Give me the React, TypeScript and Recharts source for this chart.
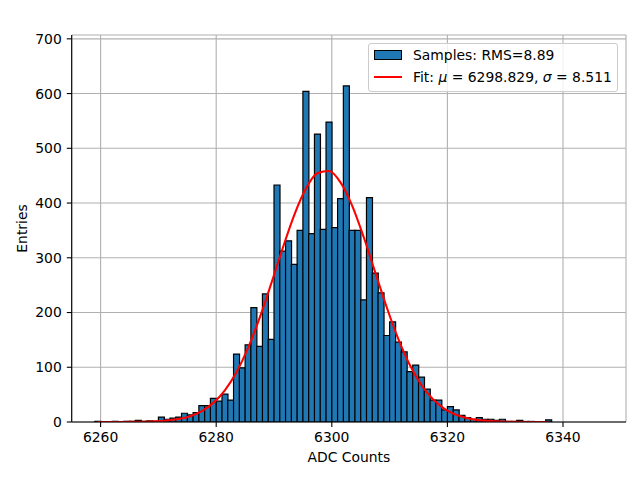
import { Bar, CartesianGrid, ComposedChart, Label, Legend, Line, XAxis, YAxis } from "recharts"

// histogram bins (left edge, width 1 ADC count)
const adcBins = [
  6259, 6260, 6261, 6262, 6263, 6264, 6265, 6266, 6267, 6268, 6269,
  6270, 6271, 6272, 6273, 6274, 6275, 6276, 6277, 6278, 6279,
  6280, 6281, 6282, 6283, 6284, 6285, 6286, 6287, 6288, 6289,
  6290, 6291, 6292, 6293, 6294, 6295, 6296, 6297, 6298, 6299,
  6300, 6301, 6302, 6303, 6304, 6305, 6306, 6307, 6308, 6309,
  6310, 6311, 6312, 6313, 6314, 6315, 6316, 6317, 6318, 6319,
  6320, 6321, 6322, 6323, 6324, 6325, 6326, 6327, 6328, 6329,
  6330, 6331, 6332, 6333, 6334, 6335, 6336, 6337,
]

const entries = [
  1, 0, 0, 1, 0, 1, 1, 3, 1, 2, 1,
  9, 5, 7, 9, 16, 13, 17, 30, 30, 43,
  38, 51, 40, 124, 99, 141, 209, 138, 234, 151,
  433, 312, 331, 288, 350, 604, 344, 526, 352, 548,
  355, 408, 614, 350, 350, 223, 410, 272, 236, 158,
  183, 146, 128, 92, 104, 82, 60, 40, 40, 22,
  28, 22, 12, 8, 5, 8, 5, 5, 3, 5,
  1, 1, 3, 1, 1, 0, 0, 4,
]

// gaussian fit curve at every other bin centre
const fitX = [
  6259.5, 6261.5, 6263.5, 6265.5, 6267.5, 6269.5, 6271.5, 6273.5, 6275.5, 6277.5,
  6279.5, 6281.5, 6283.5, 6285.5, 6287.5, 6289.5, 6291.5, 6293.5, 6295.5, 6297.5,
  6299.5, 6301.5, 6303.5, 6305.5, 6307.5, 6309.5, 6311.5, 6313.5, 6315.5, 6317.5,
  6319.5, 6321.5, 6323.5, 6325.5, 6327.5, 6329.5, 6331.5, 6333.5, 6335.5, 6337.5,
]
const fitY = [
  0, 0, 0.1, 0.2, 0.5, 1.2, 2.7, 5.5, 10.7, 19.9,
  34.9, 57.9, 90.9, 134.9, 189.7, 252.2, 317.4, 378.1, 426.1, 454.4,
  458.6, 437.9, 395.7, 338.4, 273.8, 209.6, 151.9, 104.2, 67.6, 41.5,
  24.1, 13.3, 6.9, 3.4, 1.6, 0.7, 0.3, 0.1, 0, 0,
]

const xTicks = [6260, 6280, 6300, 6320, 6340]
const yTicks = [0, 100, 200, 300, 400, 500, 600, 700]

const histData = adcBins.map((b, i) => ({ adc: b + 0.5, entries: entries[i] }))
const fitData = fitX.map((x, i) => ({ adc: x, fit: fitY[i] }))

const font = "DejaVu Sans, sans-serif"
const xDomain = [6255, 6350.9]
const yDomain = [0, 707]
const plotLeft = 71.7
const plotRight = 626

function LegendBox() {
  return (
    <div
      style={{
        position: "relative",
        width: 250,
        height: 49,
        boxSizing: "border-box",
        border: "1px solid #cccccc",
        borderRadius: 3,
        background: "rgba(255,255,255,0.8)",
        fontFamily: font,
        fontSize: 13.9,
        color: "#000",
      }}
    >
      <div
        style={{
          position: "absolute",
          left: 5,
          top: 6,
          width: 28,
          height: 10,
          boxSizing: "border-box",
          background: "#1f77b4",
          border: "1.2px solid #000",
        }}
      />
      <div style={{ position: "absolute", left: 44, top: 2, lineHeight: "18px", whiteSpace: "nowrap" }}>
        Samples: RMS=8.89
      </div>
      <div style={{ position: "absolute", left: 5, top: 32, width: 28, height: 2, background: "#ff0000" }} />
      <div style={{ position: "absolute", left: 44, top: 24, lineHeight: "18px", whiteSpace: "nowrap" }}>
        Fit: <i>μ</i> = 6298.829, <i>σ</i> = 8.511
      </div>
    </div>
  )
}

export default function App() {
  return (
    <div style={{ position: "absolute", left: 0, top: 0, width: 640, height: 480, background: "#fff" }}>
      <ComposedChart
        width={640}
        height={480}
        data={histData}
        margin={{ top: 35, right: 640 - plotRight, bottom: 0, left: 0 }}
        barCategoryGap={0}
        barGap={0}
      >
        <XAxis
          dataKey="adc"
          type="number"
          domain={xDomain}
          ticks={xTicks}
          allowDataOverflow
          height={58}
          stroke="#000"
          strokeWidth={1.1}
          tickSize={4.9}
          tickMargin={5}
          tick={{ fill: "#000", fontSize: 13.9, fontFamily: font }}
        >
          <Label
            content={({ viewBox }: any) => (
              <text
                x={viewBox.x + viewBox.width / 2}
                y={viewBox.y + 40}
                textAnchor="middle"
                fontFamily={font}
                fontSize={13.9}
                fill="#000"
              >
                ADC Counts
              </text>
            )}
          />
        </XAxis>
        <XAxis
          xAxisId="top"
          orientation="top"
          type="number"
          domain={xDomain}
          allowDataOverflow
          height={0}
          tick={false}
          tickLine={false}
          stroke="#000"
          strokeWidth={1.1}
        >
          <Label
            content={({ viewBox }: any) => (
              <text
                x={viewBox.x + viewBox.width / 2}
                y={viewBox.y - 8.3}
                textAnchor="middle"
                fontFamily={font}
                fontSize={16.7}
                fill="#000"
              >
                Run 569, channel034, Pedestal
              </text>
            )}
          />
        </XAxis>
        <YAxis
          type="number"
          domain={yDomain}
          ticks={yTicks}
          allowDataOverflow
          width={plotLeft}
          stroke="#000"
          strokeWidth={1.1}
          tickSize={4.9}
          tickMargin={5}
          tick={{ fill: "#000", fontSize: 13.9, fontFamily: font }}
        >
          <Label
            content={({ viewBox }: any) => {
              const cx = 22
              const cy = viewBox.y + viewBox.height / 2
              return (
                <text
                  x={cx}
                  y={cy}
                  transform={`rotate(-90 ${cx} ${cy})`}
                  textAnchor="middle"
                  dominantBaseline="central"
                  fontFamily={font}
                  fontSize={13.9}
                  fill="#000"
                >
                  Entries
                </text>
              )
            }}
          />
        </YAxis>
        <YAxis
          yAxisId="right"
          orientation="right"
          type="number"
          domain={yDomain}
          width={0}
          tick={false}
          tickLine={false}
          stroke="#000"
          strokeWidth={1.1}
        />
        <Bar
          dataKey="entries"
          fill="#1f77b4"
          stroke="#000"
          strokeWidth={1.2}
          isAnimationActive={false}
        />
        <CartesianGrid stroke="#b0b0b0" strokeWidth={1.1} />
        <Line
          data={fitData}
          dataKey="fit"
          type="monotone"
          stroke="#ff0000"
          strokeWidth={2.08}
          dot={false}
          activeDot={false}
          isAnimationActive={false}
        />
        <Legend
          layout="vertical"
          align="center"
          verticalAlign="middle"
          wrapperStyle={{ left: 368, top: 43, width: 250, height: 49 }}
          content={() => <LegendBox />}
        />
      </ComposedChart>
    </div>
  )
}
